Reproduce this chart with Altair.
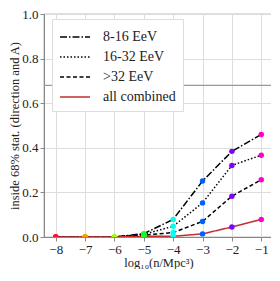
import altair as alt
import pandas as pd

x_vals = [-8, -7, -6, -5, -4, -3, -2, -1]
e8_16 = [0.0, 0.0, 0.0, 0.015, 0.079, 0.251, 0.384, 0.460]
e16_32 = [0.0, 0.0, 0.0, 0.012, 0.048, 0.153, 0.321, 0.367]
e32 = [0.0, 0.0, 0.0, 0.008, 0.020, 0.070, 0.183, 0.257]
combined = [0.0, 0.0, 0.0, 0.003, 0.003, 0.014, 0.045, 0.079]
point_colors = ["#ff1030", "#ff9a00", "#a0ff00", "#10ff20", "#00ffee", "#0060ff", "#8000ff", "#ff00cc"]
series_names = ["8-16 EeV", "16-32 EeV", ">32 EeV", "all combined"]

rows = []
for name, vals in zip(series_names, [e8_16, e16_32, e32, combined]):
    for xv, yv, c in zip(x_vals, vals, point_colors):
        rows.append({"x": xv, "y": yv, "series": name, "pc": c})
df = pd.DataFrame(rows)

FONT = "Liberation Serif"

xs = alt.X("x:Q", scale=alt.Scale(domain=[-8.4, -0.6], nice=False),
           axis=alt.Axis(values=x_vals, title="log₁₀(n/Mpc³)", format="d", labelOverlap=False))
ys = alt.Y("y:Q", scale=alt.Scale(domain=[0, 1], nice=False),
           axis=alt.Axis(values=[0, 0.2, 0.4, 0.6, 0.8, 1.0], format=".1f", labelOverlap=False,
                         title="inside 68% stat. (direction and A)"))

legend = alt.Legend(orient="none", legendX=8, legendY=5, title=None,
                    labelFont=FONT, labelFontSize=14, labelColor="#222",
                    symbolType="M-1,0L2,0", symbolSize=400, symbolStrokeWidth=1.5,
                    fillColor="white", strokeColor="#dddddd", padding=7,
                    rowPadding=2, labelOffset=22, labelLimit=200)

base = alt.Chart(df).encode(x=xs, y=ys)

lines = base.mark_line(strokeWidth=1.5, clip=True).encode(
    color=alt.Color("series:N", sort=series_names, legend=legend,
                    scale=alt.Scale(domain=series_names, range=["black", "black", "black", "#c0302f"])),
    strokeDash=alt.StrokeDash("series:N", sort=series_names, legend=legend,
                              scale=alt.Scale(domain=series_names,
                                              range=[[7, 2, 1.5, 2], [1.5, 2], [4, 2.5], [1, 0]])),
)

points = base.mark_circle(size=30, opacity=1, clip=True).encode(
    fill=alt.Fill("pc:N", scale=None, legend=None),
)

rule = alt.Chart(pd.DataFrame({"v": [0.68]})).mark_rule(color="#999999", strokeWidth=1.2).encode(
    y=alt.Y("v:Q", scale=alt.Scale(domain=[0, 1], nice=False))
)

chart = alt.layer(rule, lines, points).properties(
    width=229, height=223, padding={"left": 0, "top": 0, "right": -3, "bottom": 0}
).configure_view(stroke="#888888", strokeWidth=1.2).configure_axis(
    labelFont=FONT, titleFont=FONT, labelFontSize=13, titleFontSize=12.5,
    titleFontWeight="normal", labelColor="#222", titleColor="#222",
    gridColor="#dddddd", domainColor="#888888", tickColor="#888888", tickSize=4,
    labelPadding=2, titlePadding=0, labelOverlap=False,
)

chart.save("out.html", embed_options={"renderer": "svg", "actions": False})
